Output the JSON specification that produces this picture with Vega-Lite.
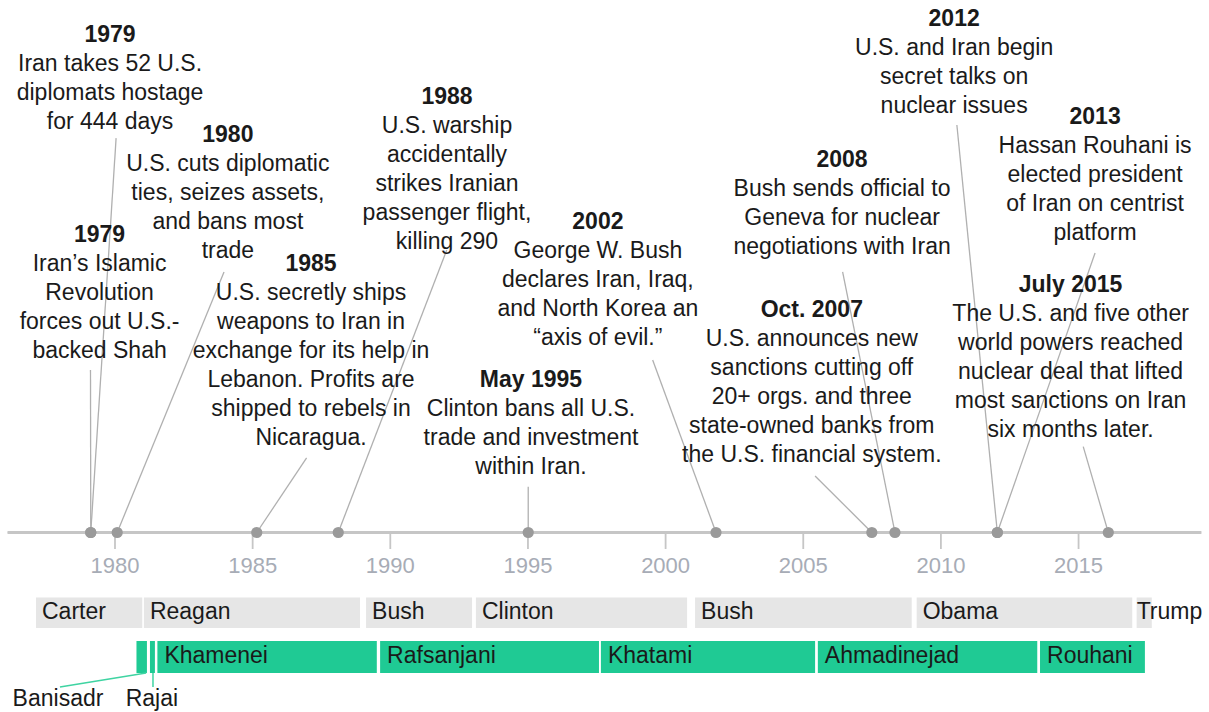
{
  "$schema": "https://vega.github.io/schema/vega-lite/v6.json",
  "width": 1209,
  "height": 712,
  "autosize": "none",
  "padding": 0,
  "background": "white",
  "config": {"view": {"stroke": null}, "text": {"font": "Liberation Sans"}},
  "datasets": {
    "events": [
      {"date": "1979", "text": "Iran takes 52 U.S.\ndiplomats hostage\nfor 444 days", "year": 1979.12, "labelX": 1979.82, "level": 16.93, "lineX": 1980.04, "lineY": 13.6},
      {"date": "1980", "text": "U.S. cuts diplomatic\nties, seizes assets,\nand bans most\ntrade", "year": 1980.08, "labelX": 1984.1, "level": 13.48, "lineX": 1983.96, "lineY": 8.98},
      {"date": "1979", "text": "Iran’s Islamic\nRevolution\nforces out U.S.-\nbacked Shah", "year": 1979.12, "labelX": 1979.44, "level": 10.03, "lineX": 1979.11, "lineY": 5.6},
      {"date": "1985", "text": "U.S. secretly ships\nweapons to Iran in\nexchange for its help in\nLebanon. Profits are\nshipped to rebels in\nNicaragua.", "year": 1985.15, "labelX": 1987.12, "level": 9.0, "lineX": 1986.96, "lineY": 2.57},
      {"date": "1988", "text": "U.S. warship\naccidentally\nstrikes Iranian\npassenger flight,\nkilling 290", "year": 1988.11, "labelX": 1992.06, "level": 14.79, "lineX": 1992.05, "lineY": 9.74},
      {"date": "2002", "text": "George W. Bush\ndeclares Iran, Iraq,\nand North Korea an\n“axis of evil.”", "year": 2001.83, "labelX": 1997.54, "level": 10.45, "lineX": 1999.53, "lineY": 5.95},
      {"date": "May 1995", "text": "Clinton bans all U.S.\ntrade and investment\nwithin Iran.", "year": 1995.01, "labelX": 1995.11, "level": 5.02, "lineX": 1995.01, "lineY": 1.58},
      {"date": "2008", "text": "Bush sends official to\nGeneva for nuclear\nnegotiations with Iran", "year": 2008.33, "labelX": 2006.41, "level": 12.59, "lineX": 2006.43, "lineY": 8.99},
      {"date": "Oct. 2007", "text": "U.S. announces new\nsanctions cutting off\n20+ orgs. and three\nstate-owned banks from\nthe U.S. financial system.", "year": 2007.49, "labelX": 2005.31, "level": 7.44, "lineX": 2005.43, "lineY": 1.95},
      {"date": "2012", "text": "U.S. and Iran begin\nsecret talks on\nnuclear issues", "year": 2012.05, "labelX": 2010.48, "level": 17.48, "lineX": 2010.58, "lineY": 14.05},
      {"date": "2013", "text": "Hassan Rouhani is\nelected president\nof Iran on centrist\nplatform", "year": 2012.05, "labelX": 2015.6, "level": 14.1, "lineX": 2015.6, "lineY": 9.64},
      {"date": "July 2015", "text": "The U.S. and five other\nworld powers reached\nnuclear deal that lifted\nmost sanctions on Iran\nsix months later.", "year": 2016.08, "labelX": 2014.71, "level": 8.3, "lineX": 2015.17, "lineY": 2.96}
    ],
    "ticks": [{"year": 1980}, {"year": 1985}, {"year": 1990}, {"year": 1995}, {"year": 2000}, {"year": 2005}, {"year": 2010}, {"year": 2015}],
    "presidents": [
      {"name": "Carter", "start": 1977.13, "end": 1980.99},
      {"name": "Reagan", "start": 1981.05, "end": 1988.9},
      {"name": "Bush", "start": 1989.12, "end": 1992.97},
      {"name": "Clinton", "start": 1993.11, "end": 2000.78},
      {"name": "Bush", "start": 2001.07, "end": 2008.94},
      {"name": "Obama", "start": 2009.12, "end": 2016.95},
      {"name": "Trump", "start": 2017.11, "end": 2017.66}
    ],
    "leaders": [
      {"name": "Banisadr", "start": 1980.78, "end": 1981.16},
      {"name": "Rajai", "start": 1981.27, "end": 1981.45},
      {"name": "Khamenei", "start": 1981.54, "end": 1989.51},
      {"name": "Rafsanjani", "start": 1989.63, "end": 1997.58},
      {"name": "Khatami", "start": 1997.65, "end": 2005.43},
      {"name": "Ahmadinejad", "start": 2005.53, "end": 2013.5},
      {"name": "Rouhani", "start": 2013.6, "end": 2017.41}
    ],
    "notes": [
      {"name": "Banisadr", "barX": 1981.13, "labelX": 1977.93, "lineEndX": 1978.0},
      {"name": "Rajai", "barX": 1981.38, "labelX": 1981.34, "lineEndX": 1981.38}
    ]
  },
  "layer": [
    {
      "data": {"name": "ticks"},
      "mark": {"type": "rule", "color": "#c6c6c6", "strokeWidth": 2.5},
      "encoding": {
        "x": {"datum": 1976.11, "type": "quantitative", "scale": {"domain": [1975.823, 2019.738], "nice": false, "zero": false}, "axis": null},
        "x2": {"datum": 2019.45},
        "y": {"datum": 0, "type": "quantitative", "scale": {"domain": [-6.19, 18.362], "nice": false, "zero": false}, "axis": null}
      }
    },
    {
      "data": {"name": "ticks"},
      "mark": {"type": "rule", "color": "#c6c6c6", "strokeWidth": 1.8},
      "encoding": {
        "x": {"field": "year", "type": "quantitative"},
        "y": {"datum": 0, "type": "quantitative"},
        "y2": {"datum": -0.569}
      }
    },
    {
      "data": {"name": "ticks"},
      "mark": {"type": "text", "color": "#a7acb6", "fontSize": 22, "align": "center", "baseline": "alphabetic"},
      "encoding": {
        "x": {"field": "year", "type": "quantitative"},
        "y": {"datum": -1.386, "type": "quantitative"},
        "text": {"field": "year", "type": "quantitative", "format": "d"}
      }
    },
    {
      "data": {"name": "events"},
      "mark": {"type": "rule", "color": "#b0b0b0", "strokeWidth": 1.3},
      "encoding": {
        "x": {"field": "lineX", "type": "quantitative"},
        "x2": {"field": "year"},
        "y": {"field": "lineY", "type": "quantitative"},
        "y2": {"datum": 0}
      }
    },
    {
      "data": {"name": "events"},
      "mark": {"type": "circle", "color": "#9a9a9a", "opacity": 1, "size": 125},
      "encoding": {
        "x": {"field": "year", "type": "quantitative"},
        "y": {"datum": 0, "type": "quantitative"}
      }
    },
    {
      "data": {"name": "events"},
      "mark": {"type": "text", "color": "#1a1a1a", "fontSize": 23, "fontWeight": "bold", "align": "center", "baseline": "alphabetic"},
      "encoding": {
        "x": {"field": "labelX", "type": "quantitative"},
        "y": {"field": "level", "type": "quantitative"},
        "text": {"field": "date", "type": "nominal"}
      }
    },
    {
      "data": {"name": "events"},
      "mark": {"type": "text", "color": "#1a1a1a", "fontSize": 23, "align": "center", "baseline": "alphabetic", "lineBreak": "\n", "lineHeight": 29, "dy": 29},
      "encoding": {
        "x": {"field": "labelX", "type": "quantitative"},
        "y": {"field": "level", "type": "quantitative"},
        "text": {"field": "text", "type": "nominal"}
      }
    },
    {
      "data": {"name": "presidents"},
      "mark": {"type": "rect", "color": "#e6e6e6"},
      "encoding": {
        "x": {"field": "start", "type": "quantitative"},
        "x2": {"field": "end"},
        "y": {"datum": -2.241, "type": "quantitative"},
        "y2": {"datum": -3.293}
      }
    },
    {
      "data": {"name": "presidents"},
      "transform": [{"filter": "datum.name != 'Trump'"}],
      "mark": {"type": "text", "color": "#1a1a1a", "fontSize": 23, "align": "left", "baseline": "alphabetic", "dx": 6},
      "encoding": {
        "x": {"field": "start", "type": "quantitative"},
        "y": {"datum": -2.993, "type": "quantitative"},
        "text": {"field": "name", "type": "nominal"}
      }
    },
    {
      "data": {"name": "presidents"},
      "transform": [{"filter": "datum.name == 'Trump'"}],
      "mark": {"type": "text", "color": "#1a1a1a", "fontSize": 23, "align": "left", "baseline": "alphabetic", "dx": 0},
      "encoding": {
        "x": {"field": "start", "type": "quantitative"},
        "y": {"datum": -2.993, "type": "quantitative"},
        "text": {"field": "name", "type": "nominal"}
      }
    },
    {
      "data": {"name": "leaders"},
      "mark": {"type": "rect", "color": "#1fca94"},
      "encoding": {
        "x": {"field": "start", "type": "quantitative"},
        "x2": {"field": "end"},
        "y": {"datum": -3.741, "type": "quantitative"},
        "y2": {"datum": -4.845}
      }
    },
    {
      "data": {"name": "leaders"},
      "transform": [{"filter": "datum.end - datum.start > 1"}],
      "mark": {"type": "text", "color": "#1a1a1a", "fontSize": 23, "align": "left", "baseline": "alphabetic", "dx": 7},
      "encoding": {
        "x": {"field": "start", "type": "quantitative"},
        "y": {"datum": -4.49, "type": "quantitative"},
        "text": {"field": "name", "type": "nominal"}
      }
    },
    {
      "data": {"name": "notes"},
      "mark": {"type": "rule", "color": "#3fd4a2", "strokeWidth": 1.5},
      "encoding": {
        "x": {"field": "barX", "type": "quantitative"},
        "x2": {"field": "lineEndX"},
        "y": {"datum": -4.845, "type": "quantitative"},
        "y2": {"datum": -5.33}
      }
    },
    {
      "data": {"name": "notes"},
      "mark": {"type": "text", "color": "#1a1a1a", "fontSize": 23, "align": "center", "baseline": "alphabetic"},
      "encoding": {
        "x": {"field": "labelX", "type": "quantitative"},
        "y": {"datum": -5.972, "type": "quantitative"},
        "text": {"field": "name", "type": "nominal"}
      }
    }
  ]
}
